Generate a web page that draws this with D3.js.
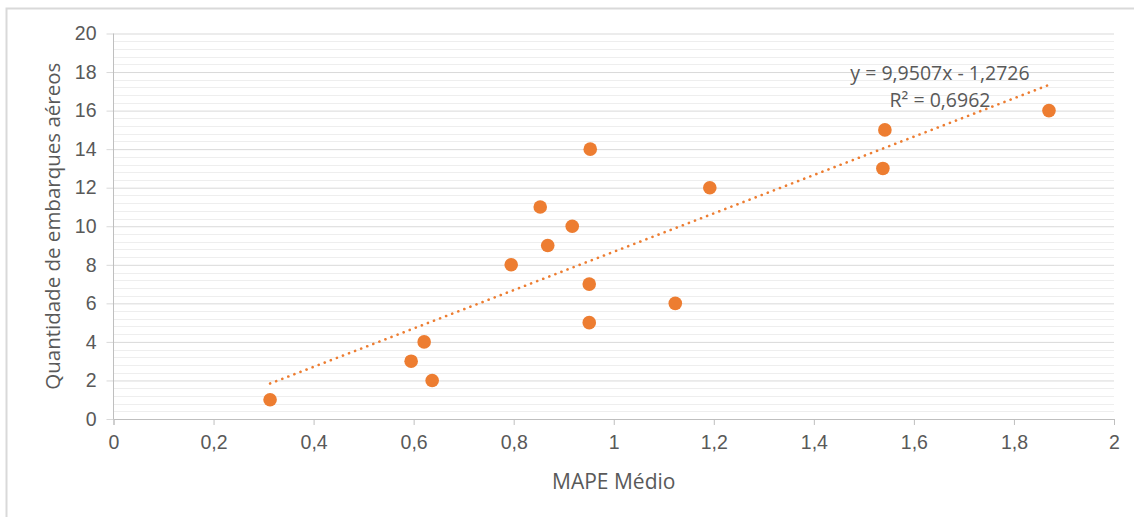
<!DOCTYPE html>
<html>
<head>
<meta charset="utf-8">
<script src="https://cdn.jsdelivr.net/npm/d3@7"></script>
<style>
  html, body { margin: 0; padding: 0; background: #fff; }
  svg { display: block; font-family: "Open Sans", sans-serif; }
</style>
</head>
<body>
<svg id="chart"></svg>
<script>
// MAPE médio por quantidade de embarques
const mapeValues = [0.313, 0.595, 0.621, 0.637, 0.795, 0.853, 0.868, 0.917, 0.953, 0.951, 0.951, 1.123, 1.192, 1.538, 1.542, 1.870];
const embarques  = [1, 3, 4, 2, 8, 11, 9, 10, 14, 7, 5, 6, 12, 13, 15, 16];

// linha de tendência (linear)
const trendSlope = 9.9507;
const trendIntercept = -1.2726;
const trendLabels = ["y = 9,9507x - 1,2726", "R² = 0,6962"];

const xTicks = [0, 0.2, 0.4, 0.6, 0.8, 1, 1.2, 1.4, 1.6, 1.8, 2];
const yTicks = [0, 2, 4, 6, 8, 10, 12, 14, 16, 18, 20];

const width = 1134;
const height = 517;
const orange = "#ED7D31";
const textColor = "#595959";

const svg = d3.select("#chart")
  .attr("width", width)
  .attr("height", height);

// moldura do gráfico
svg.append("rect")
  .attr("x", 6.5)
  .attr("y", 8.5)
  .attr("width", width + 20)
  .attr("height", height + 20)
  .attr("fill", "none")
  .attr("stroke", "#d9d9d9")
  .attr("stroke-width", 2);

const x = d3.scaleLinear().domain([0, 2]).range([113.5, 1114]);
const y = d3.scaleLinear().domain([0, 20]).range([419, 33.5]);

// linhas de grade secundárias
const minorTicks = d3.range(0, 20.001, 0.4).filter(v => Math.abs(v / 2 - Math.round(v / 2)) > 1e-6);
svg.append("g")
  .selectAll("line")
  .data(minorTicks)
  .enter().append("line")
  .attr("x1", x(0)).attr("x2", x(2))
  .attr("y1", d => Math.round(y(d)) + 0.5)
  .attr("y2", d => Math.round(y(d)) + 0.5)
  .attr("stroke", "#eeeeee")
  .attr("stroke-width", 1);

// eixo y com grade principal
const yAxis = d3.axisLeft(y)
  .tickValues(yTicks)
  .tickSize(-(x(2) - x(0)))
  .tickPadding(10)
  .tickFormat(d => d);

const gy = svg.append("g")
  .attr("transform", `translate(${x(0)},0)`)
  .call(yAxis);
gy.select(".domain").remove();
gy.selectAll(".tick line")
  .attr("stroke", "#d9d9d9")
  .attr("x2", x(2) - x(0))
  .attr("x1", -7);
gy.selectAll(".tick text")
  .attr("x", -17)
  .attr("fill", textColor)
  .style("font-size", "19.5px");
gy.append("line")
  .attr("x1", 0).attr("x2", 0)
  .attr("y1", y(20)).attr("y2", y(0))
  .attr("stroke", "#bfbfbf");

// eixo x
const xAxis = d3.axisBottom(x)
  .tickValues(xTicks)
  .tickSize(6)
  .tickPadding(10)
  .tickFormat(d => String(d).replace(".", ","));

const gx = svg.append("g")
  .attr("transform", `translate(0,${y(0)})`)
  .call(xAxis);
gx.select(".domain").attr("stroke", "#bfbfbf");
gx.selectAll(".tick line").attr("stroke", "#bfbfbf");
gx.selectAll(".tick text")
  .attr("fill", textColor)
  .style("font-size", "19.5px");

// linha de tendência pontilhada
const xMin = d3.min(mapeValues);
const xMax = d3.max(mapeValues);
svg.append("line")
  .attr("x1", x(xMin))
  .attr("y1", y(trendSlope * xMin + trendIntercept))
  .attr("x2", x(xMax))
  .attr("y2", y(trendSlope * xMax + trendIntercept))
  .attr("stroke", orange)
  .attr("stroke-width", 2.6)
  .attr("stroke-linecap", "round")
  .attr("stroke-dasharray", "0.1 6.4");

// pontos
const points = mapeValues.map((v, i) => ({ x: v, y: embarques[i] }));
svg.append("g")
  .selectAll("circle")
  .data(points)
  .enter().append("circle")
  .attr("cx", d => x(d.x))
  .attr("cy", d => y(d.y))
  .attr("r", 6.8)
  .attr("fill", orange);

// equação
svg.append("g")
  .selectAll("text")
  .data(trendLabels)
  .enter().append("text")
  .attr("x", 940)
  .attr("y", (d, i) => 80 + i * 27)
  .attr("text-anchor", "middle")
  .attr("fill", textColor)
  .style("font-size", "19.5px")
  .text(d => d);

// títulos dos eixos
svg.append("text")
  .attr("x", x(1))
  .attr("y", 489)
  .attr("text-anchor", "middle")
  .attr("fill", textColor)
  .style("font-size", "21px")
  .text("MAPE Médio");

svg.append("text")
  .attr("transform", `translate(60,${(y(0) + y(20)) / 2}) rotate(-90)`)
  .attr("text-anchor", "middle")
  .attr("fill", textColor)
  .style("font-size", "20.5px")
  .text("Quantidade de embarques aéreos");
</script>
</body>
</html>
